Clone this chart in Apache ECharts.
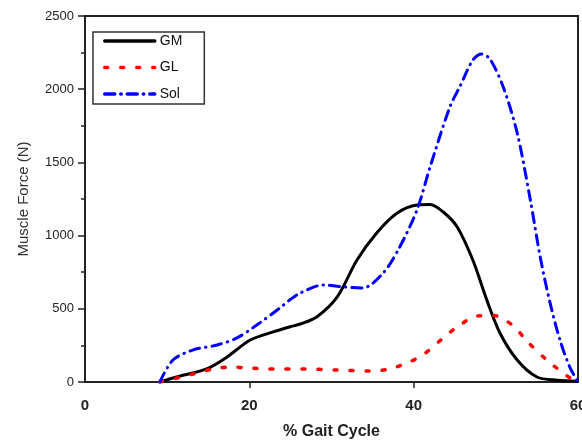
<!DOCTYPE html>
<html>
<head>
<meta charset="utf-8">
<script src="https://cdn.jsdelivr.net/npm/echarts@6/dist/echarts.min.js"></script>
<style>
  html, body { margin: 0; padding: 0; background: #fff; }
  #chart { width: 582px; height: 441px; }
</style>
</head>
<body>
<div id="chart"></div>
<script>
// Muscle forces over the stance phase, [% gait cycle, force in N]
const gmForce = [
  [9.1, 0], [11.6, 41], [14.8, 89], [17.3, 171], [20.1, 287], [22.9, 342],
  [24.9, 376], [26.2, 396], [28.2, 444], [30.7, 581], [33.1, 833], [35.5, 1018],
  [38.0, 1154], [40.4, 1209], [42.0, 1212], [43.6, 1161], [45.3, 1059],
  [47.2, 833], [48.9, 560], [50.5, 335], [52.6, 150], [55.0, 34], [57.5, 12], [59.9, 5]
];
const glForce = [
  [9.1, 0], [11.2, 27], [13.6, 61], [15.6, 89], [17.6, 102], [20.1, 96],
  [22.1, 89], [24.1, 89], [26.2, 89], [30.7, 82], [34.7, 75], [37.1, 89],
  [39.2, 130], [41.1, 184], [43.6, 301], [45.3, 376], [47.7, 451], [49.7, 455],
  [52.0, 389], [53.9, 273], [56.2, 150], [58.2, 61], [59.4, 14], [59.9, 0]
];
const solForce = [
  [9.1, 0], [10.7, 150], [13.1, 218], [16.1, 253], [18.5, 301], [20.9, 389],
  [23.7, 505], [24.9, 560], [26.2, 608], [29.0, 663], [31.0, 652], [33.8, 642],
  [36.3, 745], [38.3, 922], [40.4, 1175], [42.0, 1469], [44.4, 1878],
  [45.6, 2015], [47.2, 2199], [48.3, 2240], [49.3, 2205], [50.9, 2015],
  [52.6, 1701], [54.2, 1243], [55.4, 854], [56.6, 540], [57.8, 287],
  [59.0, 102], [59.9, 10]
];
const xTicks = [0, 20, 40, 60];
const yTicks = [0, 500, 1000, 1500, 2000, 2500];

const chart = echarts.init(document.getElementById('chart'), null, { renderer: 'canvas' });

const axisColor = '#222';
const lineSeries = (name, data, color, dash, width) => ({
  name: name,
  type: 'line',
  data: data,
  smooth: 0.3,
  symbol: 'none',
  lineStyle: { color: color, width: width, type: dash, cap: 'round' },
  itemStyle: { color: color }
});

chart.setOption({
  animation: false,
  backgroundColor: '#fff',
  grid: {
    left: 85, right: 4, top: 16, bottom: 59,
    outerBoundsMode: 'none', containLabel: false,
    show: true, borderColor: axisColor, borderWidth: 2
  },
  legend: {
    orient: 'vertical',
    left: 93, top: 32,
    padding: [2, 22, 3, 10],
    itemWidth: 50, itemHeight: 14, itemGap: 12.5,
    borderColor: '#333', borderWidth: 1.5,
    itemStyle: { opacity: 0 },
    lineStyle: { width: 3.5 },
    textStyle: { fontFamily: 'Liberation Sans', fontSize: 14, color: '#111' },
    data: ['GM', 'GL', 'Sol']
  },
  xAxis: {
    type: 'value',
    min: xTicks[0], max: xTicks[xTicks.length - 1], interval: 20,
    name: '% Gait Cycle',
    nameLocation: 'middle', nameGap: 42,
    nameTextStyle: { fontFamily: 'Liberation Sans', fontSize: 16, fontWeight: 'bold', color: '#222' },
    axisLine: { lineStyle: { color: axisColor, width: 2 } },
    axisTick: { show: true, customValues: [20, 40], inside: false, length: 6, lineStyle: { color: axisColor, width: 1.5 } },
    axisLabel: {
      margin: 16, fontFamily: 'Liberation Sans', fontSize: 15, fontWeight: 'bold', color: '#222',
      customValues: xTicks, formatter: (v) => String(v)
    },
    splitLine: { show: false }
  },
  yAxis: {
    type: 'value',
    min: yTicks[0], max: yTicks[yTicks.length - 1], interval: 500,
    name: 'Muscle Force (N)',
    nameLocation: 'middle', nameGap: 54,
    nameTextStyle: { fontFamily: 'Liberation Sans', fontSize: 15, color: '#333' },
    axisLine: { show: true, lineStyle: { color: axisColor, width: 2 } },
    axisTick: { show: true, length: 7, lineStyle: { color: axisColor, width: 1.5 } },
    minorTick: { show: true, splitNumber: 2, length: 4, lineStyle: { color: axisColor, width: 1.5 } },
    axisLabel: { margin: 11, fontFamily: 'Liberation Sans', fontSize: 13, color: '#222', formatter: (v) => String(v) },
    splitLine: { show: false }
  },
  series: [
    lineSeries('GM', gmForce, '#000000', 'solid', 3),
    lineSeries('GL', glForce, '#ff0000', [3, 13], 3.5),
    lineSeries('Sol', solForce, '#0000ff', [10, 6, 0.5, 6], 3)
  ]
});
</script>
</body>
</html>
